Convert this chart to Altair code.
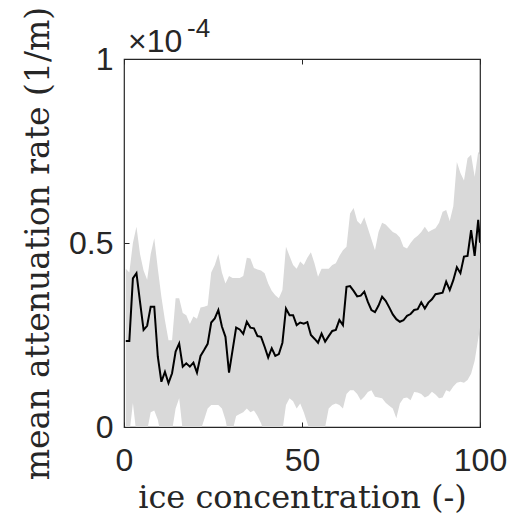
import altair as alt
import pandas as pd

# ice concentration bins (-)
conc = [0.5, 1.5, 2.5, 3.5, 4.5, 5.5, 6.5, 7.5, 8.5, 9.5,
        10.5, 11.5, 12.5, 13.5, 14.5, 15.5, 16.5, 17.5, 18.5, 19.5,
        20.5, 21.5, 22.5, 23.5, 24.5, 25.5, 26.5, 27.5, 28.5, 29.5,
        30.5, 31.5, 32.5, 33.5, 34.5, 35.5, 36.5, 37.5, 38.5, 39.5,
        40.5, 41.5, 42.5, 43.5, 44.5, 45.5, 46.5, 47.5, 48.5, 49.5,
        50.5, 51.5, 52.5, 53.5, 54.5, 55.5, 56.5, 57.5, 58.5, 59.5,
        60.5, 61.5, 62.5, 63.5, 64.5, 65.5, 66.5, 67.5, 68.5, 69.5,
        70.5, 71.5, 72.5, 73.5, 74.5, 75.5, 76.5, 77.5, 78.5, 79.5,
        80.5, 81.5, 82.5, 83.5, 84.5, 85.5, 86.5, 87.5, 88.5, 89.5,
        90.5, 91.5, 92.5, 93.5, 94.5, 95.5, 96.5, 97.5, 98.5, 99.5, 100]

# mean attenuation rate (x 1e-4 1/m)
mean_rate = [0.234, 0.234, 0.404, 0.418, 0.340, 0.264, 0.275, 0.327, 0.327, 0.191,
             0.123, 0.150, 0.119, 0.146, 0.205, 0.227, 0.164, 0.173, 0.164, 0.175,
             0.148, 0.193, 0.209, 0.226, 0.284, 0.295, 0.318, 0.273, 0.245, 0.148,
             0.209, 0.270, 0.265, 0.253, 0.286, 0.270, 0.268, 0.247, 0.245, 0.218,
             0.189, 0.214, 0.193, 0.198, 0.229, 0.322, 0.304, 0.304, 0.277, 0.284,
             0.281, 0.285, 0.250, 0.240, 0.229, 0.254, 0.232, 0.247, 0.261, 0.264,
             0.291, 0.277, 0.381, 0.383, 0.370, 0.355, 0.357, 0.368, 0.340, 0.318,
             0.312, 0.330, 0.354, 0.343, 0.325, 0.306, 0.293, 0.286, 0.290, 0.302,
             0.307, 0.318, 0.320, 0.339, 0.322, 0.338, 0.347, 0.361, 0.363, 0.365,
             0.395, 0.372, 0.399, 0.434, 0.418, 0.463, 0.465, 0.535, 0.465, 0.563, 0.501]

# upper / lower edge of the spread band
upper = [0.43, 0.42, 0.50, 0.544, 0.47, 0.425, 0.40, 0.47, 0.513, 0.43,
         0.354, 0.29, 0.236, 0.236, 0.35, 0.35, 0.31, 0.304, 0.28, 0.30,
         0.294, 0.325, 0.327, 0.33, 0.42, 0.44, 0.47, 0.42, 0.39, 0.41,
         0.405, 0.405, 0.405, 0.41, 0.46, 0.458, 0.432, 0.428, 0.425, 0.418,
         0.39, 0.37, 0.358, 0.35, 0.372, 0.49, 0.465, 0.44, 0.43, 0.45,
         0.44, 0.46, 0.475, 0.445, 0.408, 0.43, 0.43, 0.43, 0.44, 0.445,
         0.465, 0.48, 0.49, 0.58, 0.595, 0.56, 0.55, 0.57, 0.54, 0.51,
         0.48, 0.53, 0.555, 0.55, 0.54, 0.53, 0.525, 0.515, 0.49, 0.485,
         0.50, 0.512, 0.52, 0.53, 0.544, 0.53, 0.535, 0.54, 0.555, 0.585,
         0.59, 0.56, 0.60, 0.72, 0.69, 0.67, 0.73, 0.74, 0.68, 0.748, 0.74]

lower = [-0.03, -0.02, 0.065, -0.02, -0.04, -0.03, -0.01, 0.04, 0.045, 0.02,
         -0.03, -0.05, -0.03, -0.01, 0.05, 0.078, -0.01, -0.04, -0.05, -0.04,
         -0.03, -0.01, 0.02, 0.05, 0.06, 0.06, 0.06, 0.05, 0.02, -0.03,
         -0.01, 0.03, 0.035, 0.04, 0.05, 0.04, 0.045, 0.03, 0.01, -0.02,
         -0.04, -0.03, -0.03, -0.02, -0.01, 0.06, 0.078, 0.07, 0.05, 0.064,
         0.04, 0.01, -0.02, -0.03, -0.03, -0.02, 0.0, 0.05, 0.06, 0.064,
         0.06, 0.05, 0.09, 0.10, 0.10, 0.09, 0.073, 0.082, 0.095, 0.10,
         0.082, 0.08, 0.078, 0.066, 0.058, 0.05, 0.024, 0.064, 0.078, 0.08,
         0.073, 0.095, 0.094, 0.09, 0.08, 0.085, 0.096, 0.088, 0.078, 0.08,
         0.10, 0.096, 0.11, 0.12, 0.123, 0.12, 0.128, 0.145, 0.18, 0.24, 0.27]

x_ticks = [0, 50, 100]
y_ticks = [0, 0.5, 1]

df = pd.DataFrame({"conc": conc, "mean": mean_rate, "lo": lower, "hi": upper})

INK = "#262626"
SANS = "Liberation Sans"
SERIF = "DejaVu Serif"

xscale = alt.Scale(domain=[0, 100], nice=False, zero=False)
yscale = alt.Scale(domain=[0, 1], nice=False, zero=False)

base = alt.Chart(df)

band = base.mark_area(color="#d9d9d9", clip=True, interpolate="linear").encode(
    x=alt.X("conc:Q", scale=xscale, axis=alt.Axis(
        orient="bottom", values=x_ticks, offset=-5, tickSize=5, domain=False,
        labelFlush=False, labelOverlap=False, labelFont=SANS, labelFontSize=32,
        labelColor=INK, labelPadding=43, labelBaseline="alphabetic",
        title="ice concentration (-)", titleFont=SERIF, titleFontSize=32,
        titleFontWeight="normal", titleColor=INK, titleY=85,
        titleBaseline="alphabetic", grid=False, tickColor=INK, tickWidth=1)),
    y=alt.Y("lo:Q", scale=yscale, axis=alt.Axis(
        orient="left", values=y_ticks, offset=-5, tickSize=5, domain=False,
        format="~g", labelFont=SANS, labelFontSize=32, labelColor=INK,
        labelPadding=11, labelBaseline="middle", labelFlush=False,
        title="mean attenuation rate (1/m)", titleFont=SERIF, titleFontSize=33,
        titleFontWeight="normal", titleColor=INK, titleX=-81, titleY=184,
        titleAngle=270, titleBaseline="alphabetic", grid=False,
        tickColor=INK, tickWidth=1)),
    y2="hi:Q",
)

line = base.mark_line(color="black", strokeWidth=2, clip=True).encode(
    x=alt.X("conc:Q", scale=xscale, axis=alt.Axis(
        orient="top", values=x_ticks, offset=-5, tickSize=5, domain=False,
        labels=False, title=None, grid=False, tickColor=INK, tickWidth=1)),
    y=alt.Y("mean:Q", scale=yscale, axis=alt.Axis(
        orient="right", values=y_ticks, offset=-5, tickSize=5, domain=False,
        labels=False, title=None, grid=False, tickColor=INK, tickWidth=1)),
)

exp_main = alt.Chart(pd.DataFrame({"t": ["\u00d710"]})).mark_text(
    font=SANS, fontSize=32, color=INK, align="left", baseline="alphabetic",
    dx=4, dy=-7).encode(
    x=alt.XDatum(0, scale=xscale, axis=None),
    y=alt.YDatum(1, scale=yscale, axis=None),
    text="t:N",
)

exp_sup = alt.Chart(pd.DataFrame({"t": ["-4"]})).mark_text(
    font=SANS, fontSize=26, color=INK, align="left", baseline="alphabetic",
    dx=63, dy=-22).encode(
    x=alt.XDatum(0, scale=xscale, axis=None),
    y=alt.YDatum(1, scale=yscale, axis=None),
    text="t:N",
)

chart = alt.layer(band, line, exp_main, exp_sup).resolve_axis(
    x="independent", y="independent"
).properties(
    width=356, height=368,
    autosize=alt.AutoSizeParams(type="none"),
    padding={"left": 124, "top": 59, "right": 27, "bottom": 93},
    background="white",
).configure_view(stroke=INK, strokeWidth=1.2)

chart.save("out.html", embed_options={"renderer": "svg", "actions": False})
